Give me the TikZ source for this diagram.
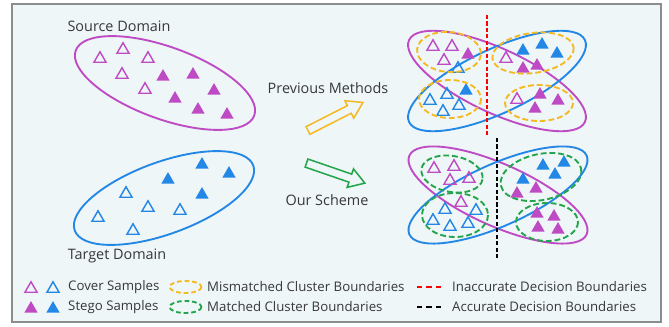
\documentclass[tikz,border=0pt]{standalone}
\usepackage{fontspec}
\setmainfont{Open Sans}
\usetikzlibrary{shapes.geometric,shapes.arrows}
\definecolor{mag}{RGB}{190,75,195}
\definecolor{blu}{RGB}{35,135,230}
\definecolor{ylw}{RGB}{245,185,35}
\definecolor{grn}{RGB}{35,165,75}
\definecolor{txt}{RGB}{55,55,60}
\definecolor{bg}{RGB}{238,246,248}
\definecolor{framegray}{RGB}{140,140,140}
\tikzset{
  cover/.style={regular polygon, regular polygon sides=3, draw=#1, line width=1.2pt, minimum size=0.42cm, inner sep=0pt, yshift=-1.5pt},
  stego/.style={regular polygon, regular polygon sides=3, fill=#1, minimum size=0.46cm, inner sep=0pt, yshift=-1.5pt},
  domainline/.style={line width=1.6pt},
  cluster/.style={line width=1.6pt, dash pattern=on 5pt off 2.5pt},
  boundary/.style={line width=2.2pt, dash pattern=on 3.5pt off 2pt},
  blockarrow/.style={single arrow, draw=#1, line width=1.3pt, fill=bg, inner sep=0pt, inner ysep=0.105cm,
    single arrow head extend=0.165cm, single arrow tip angle=65, minimum height=1.85cm},
  caption/.style={font=\fontsize{12.3}{14}\selectfont, text=txt},
  legendtext/.style={font=\fontsize{11.3}{13}\selectfont, text=txt, anchor=west, inner sep=0pt},
}
\begin{document}
\begin{tikzpicture}[x=0.03cm,y=-0.03cm]
    \useasboundingbox (0,0) rectangle (669,326);
    \draw[framegray, line width=1.3pt, fill=bg] (12,4) rectangle (661,322);
    % source and target domains
    \node[caption] (srclabel) at (119,26) {Source Domain};
    \node[caption] (tgtlabel) at (117,256) {Target Domain};
    \draw[domainline, mag, rotate around={-20:(165,83)}] (165,83) ellipse (95 and 36);
    \draw[domainline, blu, rotate around={20:(164,198)}] (164,198) ellipse (95 and 36);
    \foreach \x/\y [count=\i] in {100/57, 123/48, 148/57, 122/73, 145/88}
        \node[cover=mag] (sc\i) at (\x,\y) {};
    \foreach \x/\y [count=\i] in {163/75, 193/73, 214/89, 175/97, 198/108, 227/113}
        \node[stego=mag] (ss\i) at (\x,\y) {};
    \foreach \x/\y [count=\i] in {126/192, 148/206, 180/209, 98/216, 133/229}
        \node[cover=blu] (tc\i) at (\x,\y) {};
    \foreach \x/\y [count=\i] in {202/163, 229/172, 168/178, 202/193}
        \node[stego=blu] (ts\i) at (\x,\y) {};
    % methods
    \node[caption] (prevlabel) at (328,88) {Previous Methods};
    \node[caption] (ourlabel) at (327,200) {Our Scheme};
    \node[blockarrow=ylw, rotate=27] (prevarrow) at (332.5,118) {};
    \node[blockarrow=grn, rotate=-19] (ourarrow) at (332.5,172) {};
    % previous methods result
    \draw[domainline, mag, rotate around={-25:(497,81)}] (497,81) ellipse (97 and 32);
    \draw[domainline, blu, rotate around={25:(497,81)}] (497,81) ellipse (97 and 32);
    \foreach \x/\y [count=\i] in {433/45, 452/45, 444/59, 506/57, 517/98}
        \node[cover=mag] (pmc\i) at (\x,\y) {};
    \foreach \x/\y [count=\i] in {468/53, 523/67, 537/64, 540/93, 558/99, 535/107}
        \node[stego=mag] (pms\i) at (\x,\y) {};
    \foreach \x/\y [count=\i] in {458/67, 430/99, 447/93, 459/104, 443/110}
        \node[cover=blu] (pbc\i) at (\x,\y) {};
    \foreach \x/\y [count=\i] in {466/89, 523/49, 542/43, 557/52}
        \node[stego=blu] (pbs\i) at (\x,\y) {};
    \draw[cluster, ylw, rotate around={-5:(449,52)}] (449,52) ellipse (32 and 20);
    \draw[cluster, ylw] (450,99) ellipse (31 and 19);
    \draw[cluster, ylw, rotate around={8:(533,53)}] (533,53) ellipse (41 and 20);
    \draw[cluster, ylw] (539,103) ellipse (34 and 18);
    \draw[boundary, red] (487,15) -- (487,135);
    % our scheme result
    \draw[domainline, mag, rotate around={-24:(498,195)}] (498,195) ellipse (97 and 31);
    \draw[domainline, blu, rotate around={24:(498,195)}] (498,195) ellipse (97 and 31);
    \foreach \x/\y [count=\i] in {434/167, 454/165, 469/177, 450/179, 461/201}
        \node[cover=mag] (omc\i) at (\x,\y) {};
    \foreach \x/\y [count=\i] in {517/192, 536/187, 537/212, 554/215, 538/226, 558/228}
        \node[stego=mag] (oms\i) at (\x,\y) {};
    \foreach \x/\y [count=\i] in {445/208, 476/209, 433/219, 450/225, 468/222}
        \node[cover=blu] (obc\i) at (\x,\y) {};
    \foreach \x/\y [count=\i] in {543/164, 564/161, 523/178, 555/173}
        \node[stego=blu] (obs\i) at (\x,\y) {};
    \draw[cluster, grn, rotate around={-10:(452,174)}] (452,174) ellipse (31 and 18);
    \draw[cluster, grn] (455,215) ellipse (33 and 22);
    \draw[cluster, grn, rotate around={12:(541,177)}] (541,177) ellipse (41 and 23);
    \draw[cluster, grn] (547,222) ellipse (31 and 19);
    \draw[boundary, black] (497,138) -- (497,258);
    % legend
    \node[cover=mag] (lgcm) at (31,287) {};
    \node[cover=blu] (lgcb) at (53,287) {};
    \node[stego=mag] (lgsm) at (31,307) {};
    \node[stego=blu] (lgsb) at (53,307) {};
    \node[legendtext] (lgcover) at (68,287) {Cover Samples};
    \node[legendtext] (lgstego) at (68,307) {Stego Samples};
    \draw[cluster, ylw, dash pattern=on 4pt off 2.5pt] (185.5,287) ellipse (16 and 6);
    \draw[cluster, grn, dash pattern=on 4pt off 2.5pt] (185.5,307) ellipse (16 and 6);
    \node[legendtext] (lgmis) at (207,287) {Mismatched Cluster Boundaries};
    \node[legendtext] (lgmat) at (207,307) {Matched Cluster Boundaries};
    \draw[boundary, red, dash pattern=on 4.5pt off 3.5pt] (417,287) -- (443,287);
    \draw[boundary, black, dash pattern=on 4.5pt off 3.5pt] (417,307) -- (443,307);
    \node[legendtext] (lginacc) at (452,287) {Inaccurate Decision Boundaries};
    \node[legendtext] (lgacc) at (452,307) {Accurate Decision Boundaries};
\end{tikzpicture}
\end{document}
